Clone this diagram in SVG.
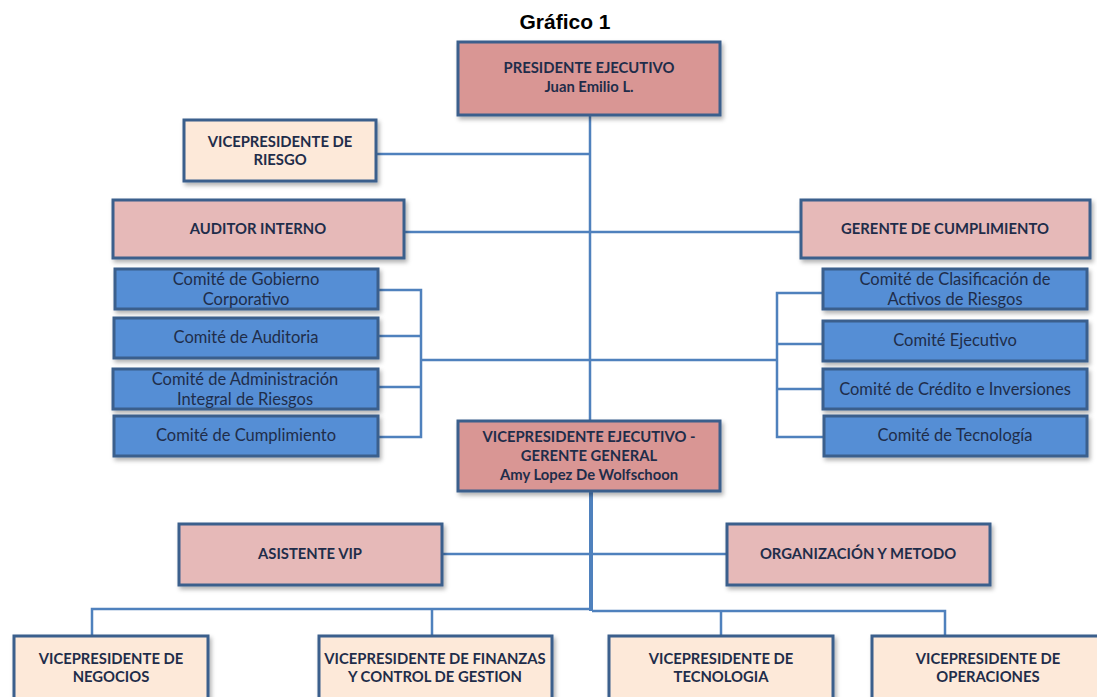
<svg xmlns="http://www.w3.org/2000/svg" width="1097" height="697" viewBox="0 0 1097 697">
<defs>
<filter id="sh" x="-10%" y="-10%" width="130%" height="140%">
<feDropShadow dx="2" dy="3" stdDeviation="2" flood-color="#000" flood-opacity="0.3"/>
</filter>
<style>
.box{stroke:#3b5e8c;stroke-width:3;filter:url(#sh)}
.p1{fill:#d99694}
.p2{fill:#e6b9b8}
.p3{fill:#fde9d9}
.cm{fill:#558ed5;stroke:#3b5e8c;stroke-width:3;filter:url(#sh)}
.t{font-family:Lato,"Open Sans",sans-serif;font-weight:bold;font-size:14.8px;fill:#1f2d4a;text-anchor:middle}
.c{font-family:Lato,"Open Sans",sans-serif;font-size:16.5px;fill:#1f2d4a;text-anchor:middle}
.ln{fill:none;stroke:#4f81bd;stroke-width:2.5}
</style>
</defs>
<rect width="1097" height="697" fill="#fff"/>
<text x="565" y="29" font-family="Liberation Sans,Arial,sans-serif" font-weight="bold" font-size="21" text-anchor="middle" fill="#000">Gráfico 1</text>
<g id="connectors">
<path class="ln" d="M590 115V421M376 154H590M404 232H801M421 360H777"/>
<path class="ln" d="M378 290H421V437H378M378 336H421M378 387H421"/>
<path class="ln" d="M823 293H777V437H824M777 344H823M777 389H823"/>
<path class="ln" d="M442 554H727"/>
<path class="ln" d="M92 636V609H590M592 611H945V636M432 609V636M721 611V636"/>
<path fill="none" stroke="#4f81bd" stroke-width="4" d="M591 491V611"/>
</g>
<g id="presidente"><rect class="box p1" x="458" y="42" width="262" height="73"/><text class="t" x="589" y="73">PRESIDENTE EJECUTIVO</text><text class="t" x="589" y="92">Juan Emilio L.</text></g>
<g id="vp-riesgo"><rect class="box p3" x="184" y="120" width="192" height="61"/><text class="t" x="280" y="147">VICEPRESIDENTE DE</text><text class="t" x="280" y="165">RIESGO</text></g>
<g id="auditor"><rect class="box p2" x="113" y="200" width="291" height="58"/><text class="t" x="258" y="234">AUDITOR INTERNO</text></g>
<g id="gerente-cumplimiento"><rect class="box p2" x="801" y="200" width="289" height="58"/><text class="t" x="945" y="234">GERENTE DE CUMPLIMIENTO</text></g>
<g id="c-gobierno"><rect class="cm" x="115" y="269" width="263" height="40"/><text class="c" x="246" y="285">Comité de Gobierno</text><text class="c" x="246" y="305">Corporativo</text></g>
<g id="c-auditoria"><rect class="cm" x="114" y="318" width="264" height="40"/><text class="c" x="246" y="343">Comité de Auditoria</text></g>
<g id="c-admin"><rect class="cm" x="113" y="369" width="265" height="40"/><text class="c" x="245" y="385">Comité de Administración</text><text class="c" x="245" y="405">Integral de Riesgos</text></g>
<g id="c-cumplimiento"><rect class="cm" x="114" y="416" width="264" height="40"/><text class="c" x="246" y="441">Comité de Cumplimiento</text></g>
<g id="c-clasificacion"><rect class="cm" x="823" y="269" width="264" height="40"/><text class="c" x="955" y="285">Comité de Clasificación de</text><text class="c" x="955" y="305">Activos de Riesgos</text></g>
<g id="c-ejecutivo"><rect class="cm" x="823" y="321" width="264" height="40"/><text class="c" x="955" y="346">Comité Ejecutivo</text></g>
<g id="c-credito"><rect class="cm" x="823" y="369" width="264" height="40"/><text class="c" x="955" y="395">Comité de Crédito e Inversiones</text></g>
<g id="c-tecnologia"><rect class="cm" x="824" y="416" width="263" height="40"/><text class="c" x="955" y="441">Comité de Tecnología</text></g>
<g id="vp-ejecutivo"><rect class="box p1" x="458" y="421" width="262" height="70"/><text class="t" x="589" y="442">VICEPRESIDENTE EJECUTIVO -</text><text class="t" x="589" y="461">GERENTE GENERAL</text><text class="t" x="589" y="480">Amy Lopez De Wolfschoon</text></g>
<g id="asistente"><rect class="box p2" x="179" y="524" width="263" height="61"/><text class="t" x="310" y="559">ASISTENTE VIP</text></g>
<g id="organizacion"><rect class="box p2" x="727" y="524" width="263" height="61"/><text class="t" x="858" y="559">ORGANIZACIÓN Y METODO</text></g>
<g id="vp-negocios"><rect class="box p3" x="14" y="636" width="194" height="70"/><text class="t" x="111" y="664">VICEPRESIDENTE DE</text><text class="t" x="111" y="682">NEGOCIOS</text></g>
<g id="vp-finanzas"><rect class="box p3" x="319" y="636" width="233" height="70"/><text class="t" x="435" y="664">VICEPRESIDENTE DE FINANZAS</text><text class="t" x="435" y="682">Y CONTROL DE GESTION</text></g>
<g id="vp-tecnologia"><rect class="box p3" x="609" y="636" width="224" height="70"/><text class="t" x="721" y="664">VICEPRESIDENTE DE</text><text class="t" x="721" y="682">TECNOLOGIA</text></g>
<g id="vp-operaciones"><rect class="box p3" x="872" y="636" width="240" height="70"/><text class="t" x="988" y="664">VICEPRESIDENTE DE</text><text class="t" x="988" y="682">OPERACIONES</text></g>
</svg>
